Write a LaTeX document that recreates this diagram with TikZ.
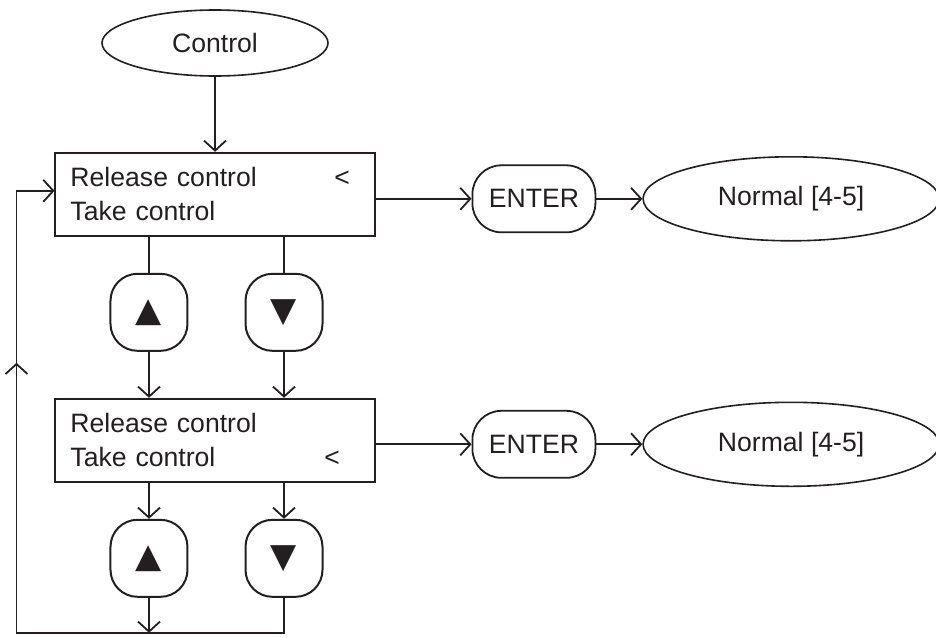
\documentclass[tikz,border=0pt]{standalone}
\usepackage{fontspec}
\setmainfont{Liberation Sans}
\newfontfamily\trifont{DejaVu Sans}
\usetikzlibrary{arrows.meta, positioning, shapes.geometric}
\definecolor{ink}{HTML}{231F20}

\begin{document}
\begin{tikzpicture}[
    every node/.style={font=\fontsize{13.3pt}{17pt}\selectfont, text=ink},
    oval/.style={
        ellipse, draw=ink, line width=0.8pt, inner sep=0pt,
        minimum width=113pt, minimum height=33pt
    },
    menu/.style={
        rectangle, draw=ink, line width=1pt, inner xsep=7.5pt,
        text width=144.5pt, minimum height=41.5pt, align=left
    },
    key/.style={
        rectangle, rounded corners=13.5pt, draw=ink, line width=1pt,
        minimum width=38.5pt, minimum height=38.5pt, inner sep=0pt,
        font=\trifont\fontsize{17pt}{17pt}\selectfont
    },
    enterkey/.style={
        rectangle, rounded corners=14.5pt, draw=ink, line width=0.9pt,
        minimum width=61.5pt, minimum height=33.5pt, inner sep=0pt
    },
    flow/.style={-{Straight Barb[length=5pt, width=11pt]}, line width=0.9pt, draw=ink},
    link/.style={line width=0.9pt, draw=ink},
]

% ===== Canvas =====
\useasboundingbox (-107.5pt,21.5pt) rectangle (360.5pt,-297pt);

% ===== Entry =====
\node[oval] (ctrl) {Control};

% ===== Menu 1: cursor on first line =====
\node[menu, below=37.5pt of ctrl] (menuA)
    {\makebox[132pt][l]{Release control}<\\Take control};
\node[key, below=18pt of menuA, xshift=-33pt] (upA) {▲};
\node[key, right=28pt of upA] (downA) {▼};

\node[enterkey, right=48pt of menuA, yshift=-2.25pt] (enterA) {ENTER};
\node[oval, minimum width=148pt, minimum height=42pt, right=23pt of enterA] (normA) {Normal [4-5]};

% ===== Menu 2: cursor on second line =====
\node[menu, below=80.5pt of menuA] (menuB)
    {Release control\\\makebox[127pt][l]{Take control}<};
\node[key, below=18pt of menuB, xshift=-33pt] (upB) {▲};
\node[key, right=28pt of upB] (downB) {▼};

\node[enterkey, right=48pt of menuB, yshift=-2pt] (enterB) {ENTER};
\node[oval, minimum width=148pt, minimum height=42pt, right=23pt of enterB] (normB) {Normal [4-5]};

% ===== Connectors =====
\draw[flow] (ctrl) -- (menuA);
\draw[link] (menuA.south -| upA) -- (upA);
\draw[link] (menuA.south -| downA) -- (downA);
\draw[flow] (upA) -- (upA |- menuB.north);
\draw[flow] (downA) -- (downA |- menuB.north);
\draw[flow] (menuB.south -| upB) -- (upB);
\draw[flow] (menuB.south -| downB) -- (downB);

\draw[flow] (menuA.east |- enterA) -- (enterA);
\draw[flow] (enterA) -- (normA);
\draw[flow] (menuB.east |- enterB) -- (enterB);
\draw[flow] (enterB) -- (normB);

% loop back to the first menu
\coordinate[below=17.5pt of upB] (join);
\coordinate[left=19pt of menuA.west, yshift=1.75pt] (loopTop);
\coordinate (loopBot) at (loopTop |- join);
\coordinate[above=135pt of loopBot] (loopMid);
\draw[flow] (upB) -- (join);
\draw[link] (downB) |- (loopBot);
\draw[flow] (loopBot) -- (loopMid);
\draw[flow] (loopMid) -- (loopTop) -- (loopTop -| menuA.west);

\end{tikzpicture}
\end{document}
